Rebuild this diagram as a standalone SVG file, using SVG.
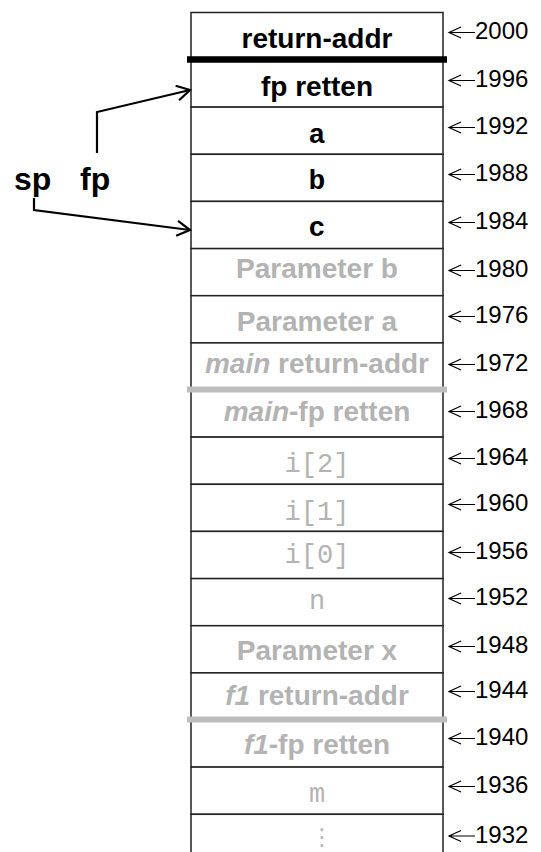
<svg xmlns="http://www.w3.org/2000/svg" xmlns:xlink="http://www.w3.org/1999/xlink" width="541" height="852" viewBox="0 0 541 852">
<style>
.cell{fill:#fff;stroke:#222;stroke-width:1.5}
.sans{font-family:"Liberation Sans",Arial,sans-serif;font-weight:bold;font-size:28px;text-anchor:middle}
.mono{font-family:"Liberation Mono","Courier New",monospace;font-size:27px;text-anchor:middle}
.monob{font-weight:bold;font-size:28px}
.blk{fill:#000}
.gry{fill:#b3b3b3}
.addr{font-family:"Liberation Sans",Arial,sans-serif;font-size:24px;fill:#000}
.aarrow{fill:none;stroke:#000;stroke-width:1.2}
.ptr{fill:none;stroke:#000;stroke-width:2.2;stroke-linejoin:miter}
.lbl{font-family:"Liberation Sans",Arial,sans-serif;font-weight:bold;font-size:32px;fill:#000}
.sepb{stroke:#000;stroke-width:6.5}
.sepg{stroke:#bdbdbd;stroke-width:6}
</style>
<defs>
<g id="aa"><path class="aarrow" d="M0,0 H26 M12,-5.5 L0,0 L12,5.5"/></g>
<marker id="head" markerUnits="userSpaceOnUse" viewBox="-16 -10 18 20" refX="0" refY="0" markerWidth="18" markerHeight="20" orient="auto">
<path d="M-13,-7.5 L0,0 L-13,7.5" fill="none" stroke="#000" stroke-width="2.2"/>
</marker>
</defs>

<g id="m2000"><rect class="cell" x="191" y="12.5" width="252" height="47.5"/><text class="sans blk" x="317" y="48">return-addr</text><use xlink:href="#aa" x="449" y="32.5"/><text class="addr" x="475" y="38.5">2000</text></g>
<g id="m1996"><rect class="cell" x="191" y="60" width="252" height="47.1"/><text class="sans blk" x="317" y="96">fp retten</text><use xlink:href="#aa" x="449" y="80.5"/><text class="addr" x="475" y="86.5">1996</text></g>
<g id="m1992"><rect class="cell" x="191" y="107.1" width="252" height="47.2"/><text class="mono monob blk" x="317" y="143">a</text><use xlink:href="#aa" x="449" y="127.5"/><text class="addr" x="475" y="133.5">1992</text></g>
<g id="m1988"><rect class="cell" x="191" y="154.3" width="252" height="47.1"/><text class="mono monob blk" x="317" y="189">b</text><use xlink:href="#aa" x="449" y="174.5"/><text class="addr" x="475" y="180.5">1988</text></g>
<g id="m1984"><rect class="cell" x="191" y="201.4" width="252" height="47.2"/><text class="mono monob blk" x="317" y="236">c</text><use xlink:href="#aa" x="449" y="222.5"/><text class="addr" x="475" y="228.5">1984</text></g>
<g id="m1980"><rect class="cell" x="191" y="248.6" width="252" height="47.1"/><text class="sans gry" x="317" y="278">Parameter b</text><use xlink:href="#aa" x="449" y="270.5"/><text class="addr" x="475" y="276.5">1980</text></g>
<g id="m1976"><rect class="cell" x="191" y="295.7" width="252" height="47.2"/><text class="sans gry" x="317" y="331">Parameter a</text><use xlink:href="#aa" x="449" y="316.5"/><text class="addr" x="475" y="322.5">1976</text></g>
<g id="m1972"><rect class="cell" x="191" y="342.9" width="252" height="47.1"/><text class="sans gry" x="317" y="373"><tspan font-style="italic">main</tspan> return-addr</text><use xlink:href="#aa" x="449" y="364.5"/><text class="addr" x="475" y="370.5">1972</text></g>
<g id="m1968"><rect class="cell" x="191" y="390" width="252" height="47.1"/><text class="sans gry" x="317" y="421"><tspan font-style="italic">main</tspan>-fp retten</text><use xlink:href="#aa" x="449" y="411.5"/><text class="addr" x="475" y="417.5">1968</text></g>
<g id="m1964"><rect class="cell" x="191" y="437.1" width="252" height="47.2"/><text class="mono gry" x="317" y="472">i[2]</text><use xlink:href="#aa" x="449" y="458.5"/><text class="addr" x="475" y="464.5">1964</text></g>
<g id="m1960"><rect class="cell" x="191" y="484.3" width="252" height="47.1"/><text class="mono gry" x="317" y="520">i[1]</text><use xlink:href="#aa" x="449" y="504.5"/><text class="addr" x="475" y="510.5">1960</text></g>
<g id="m1956"><rect class="cell" x="191" y="531.4" width="252" height="47.2"/><text class="mono gry" x="317" y="563">i[0]</text><use xlink:href="#aa" x="449" y="552.5"/><text class="addr" x="475" y="558.5">1956</text></g>
<g id="m1952"><rect class="cell" x="191" y="578.6" width="252" height="47.1"/><text class="mono gry" x="317" y="609">n</text><use xlink:href="#aa" x="449" y="598.5"/><text class="addr" x="475" y="604.5">1952</text></g>
<g id="m1948"><rect class="cell" x="191" y="625.7" width="252" height="47.2"/><text class="sans gry" x="317" y="660">Parameter x</text><use xlink:href="#aa" x="449" y="646.5"/><text class="addr" x="475" y="652.5">1948</text></g>
<g id="m1944"><rect class="cell" x="191" y="672.9" width="252" height="47.1"/><text class="sans gry" x="317" y="705"><tspan font-style="italic">f1</tspan> return-addr</text><use xlink:href="#aa" x="449" y="691.5"/><text class="addr" x="475" y="697.5">1944</text></g>
<g id="m1940"><rect class="cell" x="191" y="720" width="252" height="47.1"/><text class="sans gry" x="317" y="754"><tspan font-style="italic">f1</tspan>-fp retten</text><use xlink:href="#aa" x="449" y="738.5"/><text class="addr" x="475" y="744.5">1940</text></g>
<g id="m1936"><rect class="cell" x="191" y="767.1" width="252" height="47.2"/><text class="mono gry" x="317" y="802">m</text><use xlink:href="#aa" x="449" y="786.5"/><text class="addr" x="475" y="792.5">1936</text></g>
<g id="m1932"><rect class="cell" x="191" y="814.3" width="252" height="60"/><text class="gry" x="322" y="845" font-family="DejaVu Sans,sans-serif" font-size="23" text-anchor="middle">⋮</text><use xlink:href="#aa" x="449" y="836"/><text class="addr" x="475" y="842.5">1932</text></g>

<g id="separators">
<line class="sepb" x1="187" y1="59.5" x2="447" y2="59.5"/>
<line class="sepg" x1="187" y1="389.5" x2="447" y2="389.5"/>
<line class="sepg" x1="187" y1="719.5" x2="447" y2="719.5"/>
</g>

<g id="sp"><text class="lbl" x="14" y="190">sp</text></g>
<g id="fp"><text class="lbl" x="80" y="190">fp</text></g>

<g id="connectors">
<path class="ptr" d="M97,153 V112 L190,90" marker-end="url(#head)"/>
<path class="ptr" d="M34,198 V210 L190,230" marker-end="url(#head)"/>
</g>
</svg>
